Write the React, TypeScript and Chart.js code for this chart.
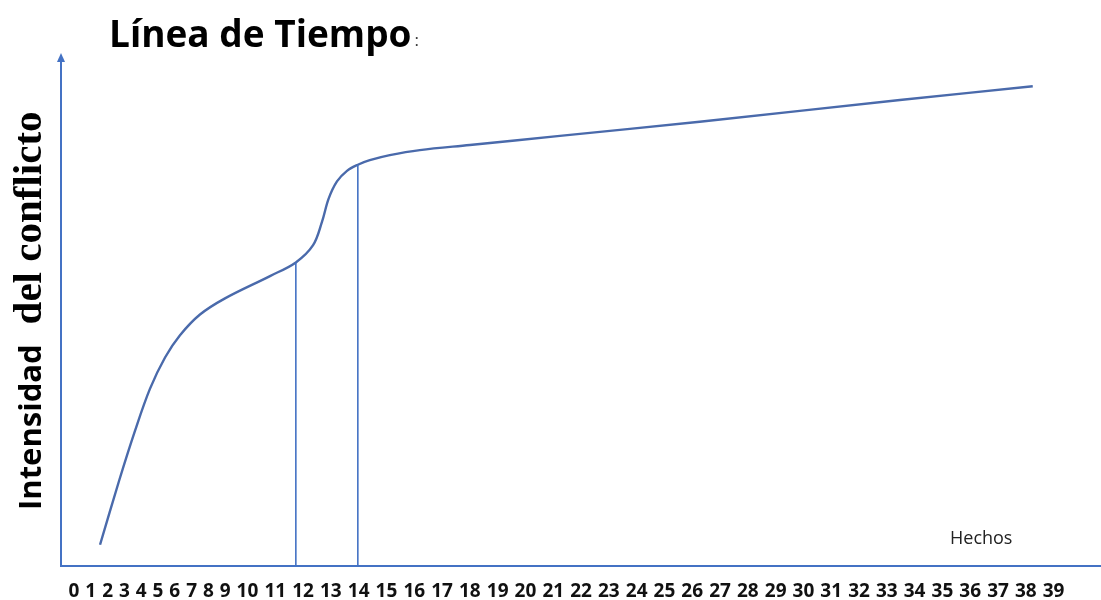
import React, { useEffect, useRef } from 'react';
import { Chart, registerables, LinearScale } from 'chart.js';

// ---- data ----
const hechos: string[] = [
  '0', '1', '2', '3', '4', '5', '6', '7', '8', '9',
  '10', '11', '12', '13', '14', '15', '16', '17', '18', '19',
  '20', '21', '22', '23', '24', '25', '26', '27', '28', '29',
  '30', '31', '32', '33', '34', '35', '36', '37', '38', '39',
];
const curveX: number[] = [1.55, 2.68, 3.63, 4.52, 5.42, 6.31, 7.5, 8.99, 10.81, 11.74, 12.36, 12.68, 12.92, 13.22, 13.58, 13.97, 14.4, 15.12, 16.2, 18.0, 21.24, 26.27, 33.47, 38.25];
const curveY: number[] = [4.2, 16.8, 26.7, 35.0, 41.2, 45.6, 49.7, 52.9, 57.3, 60.0, 63.4, 68.0, 72.6, 76.0, 78.1, 79.3, 80.2, 81.2, 82.2, 83.2, 85.0, 87.8, 92.1, 94.8];
const markerX: number[] = [11.74, 13.97];
const markerY: number[] = [60.0, 79.3];

const TITLE = 'Línea de Tiempo';
const TITLE_MARK = ':';
const Y_TITLE_A = 'Intensidad';
const Y_TITLE_B = 'del conflicto';
const X_TITLE = 'Hechos';

// ---- styles ----
const AXIS_COLOR = '#4472C4';
const CURVE_COLOR = '#4a6aab';
const SANS = '"Open Sans", "Noto Sans", sans-serif';
const SERIF = '"Liberation Serif", "DejaVu Serif", serif';

// label spacing model: one digit = 1 unit, a space = GAP units
const GAP = 0.527;
const centers: number[] = (() => {
  let p = 0;
  return hechos.map((l) => {
    const c = p + l.length / 2;
    p += l.length + GAP;
    return c;
  });
})();

function toU(v: number): number {
  const n = centers.length;
  let k = Math.floor(v);
  if (k < 0) k = 0;
  if (k > n - 2) k = n - 2;
  return centers[k] + (v - k) * (centers[k + 1] - centers[k]);
}
function fromU(u: number): number {
  const n = centers.length;
  let k = 0;
  while (k < n - 2 && u > centers[k + 1]) k++;
  return k + (u - centers[k]) / (centers[k + 1] - centers[k]);
}

class HechosScale extends LinearScale {
  static id = 'hechos';
  static defaults = LinearScale.defaults;
  getPixelForValue(value: number): number {
    if (value === null || value === undefined || isNaN(value)) return NaN;
    const a = toU(this.min);
    const b = toU(this.max);
    return this.getPixelForDecimal((toU(value) - a) / (b - a));
  }
  getValueForPixel(pixel: number): number {
    const a = toU(this.min);
    const b = toU(this.max);
    return fromU(a + this.getDecimalForPixel(pixel) * (b - a));
  }
}

Chart.register(...registerables, HechosScale as any);

const decor = {
  id: 'decor',
  afterDraw(chart: any) {
    const { ctx, chartArea } = chart;
    ctx.save();
    // arrow head on y axis
    const ax = chartArea.left;
    ctx.fillStyle = AXIS_COLOR;
    ctx.beginPath();
    ctx.moveTo(ax, chartArea.top - 7);
    ctx.lineTo(ax - 4, chartArea.top + 2);
    ctx.lineTo(ax + 4, chartArea.top + 2);
    ctx.closePath();
    ctx.fill();

    // title
    ctx.fillStyle = '#000';
    ctx.textBaseline = 'alphabetic';
    ctx.textAlign = 'left';
    ctx.font = `bold 37px ${SANS}`;
    ctx.fillText(TITLE, 109, 47);
    const tw = ctx.measureText(TITLE).width;
    ctx.font = `17px ${SANS}`;
    ctx.fillStyle = '#333';
    ctx.fillText(TITLE_MARK, 109 + tw + 3, 46);

    // x label inside plot
    ctx.fillStyle = '#222';
    ctx.font = `18px ${SANS}`;
    ctx.fillText(X_TITLE, 950, 544);

    // y title (rotated, two font runs)
    ctx.save();
    ctx.translate(41, 510);
    ctx.rotate(-Math.PI / 2);
    ctx.fillStyle = '#000';
    ctx.font = `bold 31px ${SANS}`;
    ctx.fillText(Y_TITLE_A, 0, 0);
    const aw = ctx.measureText(Y_TITLE_A).width;
    ctx.font = `bold 41px ${SERIF}`;
    ctx.fillText(Y_TITLE_B, aw + 20, 0);
    ctx.restore();

    ctx.restore();
  },
};

export default function App() {
  const ref = useRef<HTMLCanvasElement | null>(null);
  useEffect(() => {
    if (!ref.current) return;
    const curve = curveX.map((x, i) => ({ x, y: curveY[i] }));
    const markers = markerX.map((x, i) => ({
      data: [{ x, y: 0 }, { x, y: markerY[i] }],
      borderColor: AXIS_COLOR,
      borderWidth: 1.6,
      pointRadius: 0,
      tension: 0,
      fill: false,
    }));
    const chart = new Chart(ref.current, {
      type: 'line',
      data: {
        datasets: [
          ...markers,
          {
            data: curve,
            borderColor: CURVE_COLOR,
            borderWidth: 2.4,
            pointRadius: 0,
            tension: 0.35,
            fill: false,
          },
        ],
      } as any,
      options: {
        animation: false,
        responsive: true,
        maintainAspectRatio: false,
        devicePixelRatio: 1,
        events: [],
        layout: { padding: { left: 61, top: 60, right: 0, bottom: -17 } },
        plugins: {
          legend: { display: false },
          tooltip: { enabled: false },
          title: { display: false },
        },
        scales: {
          x: {
            type: 'hechos' as any,
            min: -0.774,
            max: 40.705,
            bounds: 'data',
            grid: { display: false, drawTicks: false },
            border: { display: true, color: AXIS_COLOR, width: 2 },
            afterBuildTicks: (axis: any) => {
              axis.ticks = hechos.map((_, i) => ({ value: i }));
            },
            ticks: {
              autoSkip: false,
              maxRotation: 0,
              minRotation: 0,
              padding: 16,
              color: '#111',
              font: { family: SANS, size: 19, weight: 'bold', lineHeight: 1 },
              callback: (_v: any, i: number) => hechos[i],
            },
          } as any,
          y: {
            min: 0,
            max: 100,
            grid: { display: false, drawTicks: false },
            border: { display: true, color: AXIS_COLOR, width: 2 },
            ticks: { display: false },
          },
        },
      },
      plugins: [decor],
    });
    return () => chart.destroy();
  }, []);
  return (
    <div style={{ position: 'fixed', left: 0, top: 0, width: 1101, height: 600, background: '#fff' }}>
      <canvas ref={ref} />
    </div>
  );
}
